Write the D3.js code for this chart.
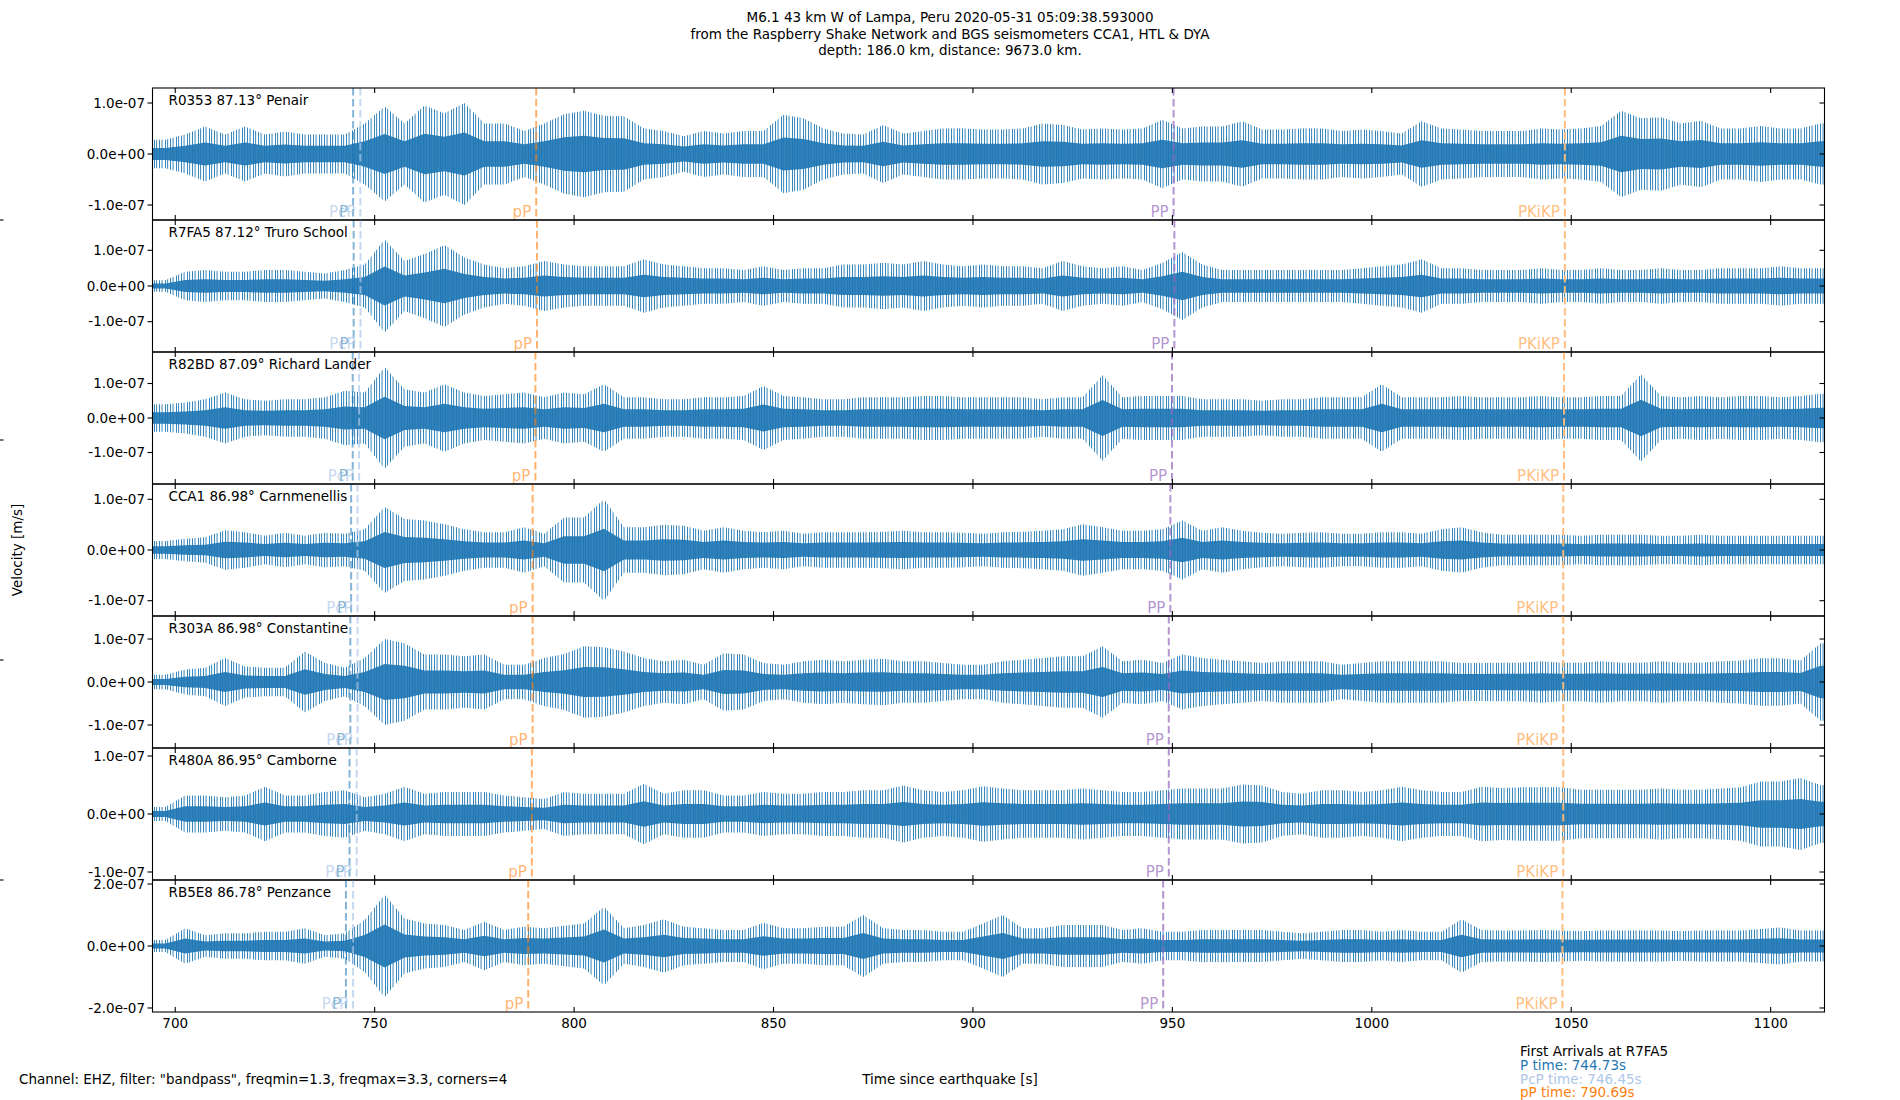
<!DOCTYPE html>
<html>
<head>
<meta charset="utf-8">
<script src="https://cdn.jsdelivr.net/npm/d3@7"></script>
<style>
body{margin:0;background:#fff}
text{font-family:"DejaVu Sans",sans-serif;font-size:13.5px}
</style>
</head>
<body>
<svg id="fig" width="1900" height="1100"></svg>
<script>
'use strict'

// stations, top to bottom
var stations = ["R0353", "R7FA5", "R82BD", "CCA1", "R303A", "R480A", "RB5E8"]
var distances = [87.13, 87.12, 87.09, 86.98, 86.98, 86.95, 86.78]
var places = ["Penair", "Truro School", "Richard Lander", "Carnmenellis", "Constantine", "Camborne", "Penzance"]

// half range of each y axis (m/s) and its ticks
var yLimits = [1.294e-7, 1.849e-7, 1.913e-7, 1.302e-7, 1.535e-7, 1.138e-7, 2.13e-7]
var yTicks = [
	[-1e-7, 0, 1e-7], [-1e-7, 0, 1e-7], [-1e-7, 0, 1e-7], [-1e-7, 0, 1e-7],
	[-1e-7, 0, 1e-7], [-1e-7, 0, 1e-7], [-2e-7, 0, 2e-7]
]
var xTicks = [700, 750, 800, 850, 900, 950, 1000, 1050, 1100]
var xLimits = [694.3, 1113.5]

// arrival times (s) per station
var pcpTimes = [746.4, 746.45, 746.1, 745.7, 745.7, 745.5, 744.6]
var pTimes = [744.6, 744.73, 744.5, 744.1, 743.9, 743.7, 742.8]
var pPTimes = [790.5, 790.69, 790.3, 789.6, 789.6, 789.4, 788.5]
var ppTimes = [950.3, 950.5, 949.9, 949.5, 949.1, 949.1, 947.7]
var pkikpTimes = [1048.4, 1048.4, 1048.2, 1048.0, 1048.0, 1048.0, 1047.8]

// 5 s windows (start time) and peak velocity in each window, units of 1e-8 m/s
var binStarts = [695, 700, 705, 710, 715, 720, 725, 730, 735, 740,
	745, 750, 755, 760, 765, 770, 775, 780, 785, 790,
	795, 800, 805, 810, 815, 820, 825, 830, 835, 840,
	845, 850, 855, 860, 865, 870, 875, 880, 885, 890,
	895, 900, 905, 910, 915, 920, 925, 930, 935, 940,
	945, 950, 955, 960, 965, 970, 975, 980, 985, 990,
	995, 1000, 1005, 1010, 1015, 1020, 1025, 1030, 1035, 1040,
	1045, 1050, 1055, 1060, 1065, 1070, 1075, 1080, 1085, 1090,
	1095, 1100, 1105, 1110]

var envR0353 = [2.8, 3.8, 5.4, 3.8, 5.4, 3.8, 4.4, 3.8, 3.8, 3.8,
	6, 9.3, 6, 9.5, 8, 10, 6, 6, 4.5, 6,
	7.8, 8.5, 7.5, 7.4, 5, 4.5, 3.5, 4.5, 4, 4.5,
	4.5, 7.7, 7, 5, 4, 3.8, 5.7, 4, 4.5, 5,
	5, 4.8, 4.8, 5, 6, 5.7, 4.8, 5, 4.8, 5,
	6.7, 5, 5.4, 5.4, 6.4, 4.8, 4.8, 5, 5, 4.5,
	4.8, 4.5, 4, 6.4, 5, 4.8, 4.5, 4.5, 4.5, 5,
	4.8, 5, 5.5, 8.5, 7, 7.2, 6, 6.5, 5, 5,
	5.5, 5, 5, 6]
var envR7FA5 = [1.6, 4, 4.5, 4, 4, 4.5, 4.5, 4, 3.5, 4.5,
	6, 13, 7, 9, 11.5, 8, 6, 5, 5.5, 7,
	6, 5.5, 5.5, 5.5, 7.5, 6, 5.5, 5, 5, 4.5,
	5.5, 4.5, 5, 5, 6, 6, 6.5, 6, 7, 6,
	5.5, 6, 5.5, 5.5, 5, 7, 5.5, 5, 5.5, 4.5,
	6.5, 9.5, 6, 4.5, 4.5, 4.5, 4.5, 4.5, 4.5, 4.5,
	5, 5.5, 6, 7.5, 5, 5, 4.5, 4.5, 4.5, 5,
	4.5, 4.5, 5, 4.5, 4.5, 5, 4.5, 4.5, 5, 5,
	5, 5.5, 5, 5]
var envR82BD = [4, 4.5, 5.4, 7.4, 5.4, 5, 5.4, 5.4, 6, 7.9,
	7.4, 14.7, 8.3, 7.4, 9.8, 7.4, 6.4, 6.9, 7.4, 6,
	7.4, 6.9, 9.8, 6, 6, 5.4, 5.4, 6, 6, 6.4,
	9.3, 6.4, 6, 5.4, 5.4, 6, 6, 6, 6.4, 6.4,
	6, 6, 6, 6, 5.4, 6, 6, 12.4, 6, 6.4,
	6.4, 6.4, 5.4, 5.4, 5.4, 5, 5.4, 5.4, 6, 6,
	6, 9.8, 6, 6, 6, 6.4, 6, 6, 6, 6.4,
	6, 6, 6.4, 6.4, 12.6, 6.4, 6, 6.4, 6, 6.4,
	6.4, 6, 6.4, 7]
var envCCA1 = [1.8, 2.2, 2.5, 3.9, 3.5, 2.8, 3.4, 2.8, 3.4, 3.2,
	4.1, 8.5, 6.1, 5.8, 5.1, 4.1, 3.5, 3.5, 4.5, 3.2,
	6.4, 6.4, 10, 4.5, 4.5, 5, 4.8, 3.8, 4.5, 3.8,
	3.5, 3.8, 3.2, 3.5, 3.5, 3.5, 3.6, 3.8, 3.5, 3.5,
	3.4, 3.2, 3.5, 3.6, 3.8, 4.1, 5.1, 4.5, 3.8, 3.8,
	4.1, 5.8, 3.8, 4.5, 3.8, 3.4, 3.2, 3.4, 3.5, 3.2,
	3.2, 3.5, 3.5, 3.2, 4.1, 4.5, 3.5, 3, 3, 3,
	3, 2.8, 3, 3, 3, 2.8, 2.8, 3, 2.8, 2.8,
	2.8, 2.8, 2.8, 2.8]
var envR303A = [1.7, 2.9, 3.3, 5.6, 3.6, 3.3, 3.3, 7.1, 4.4, 3.3,
	5.6, 10, 9, 6.4, 6.4, 6, 6.4, 4, 4, 5.6,
	6.5, 8.3, 8.1, 7.1, 5.6, 4.8, 5.2, 4, 6.7, 6.4,
	4.4, 4, 4.8, 5.2, 4.8, 5.2, 5.4, 4.8, 4.8, 4.4,
	4, 4, 4.8, 5.2, 5.6, 6, 6, 8.3, 4.8, 5.2,
	4.4, 6.4, 5.6, 5.2, 4.8, 4.4, 4.8, 4.8, 4.8, 4,
	4.4, 4.8, 4.8, 4.8, 4.8, 4.4, 4.4, 4.5, 4.5, 4.8,
	4.5, 4.5, 4.8, 4.5, 4.5, 4.8, 4.5, 4.5, 4.8, 5,
	5.5, 5.5, 5, 9]
var envR480A = [1.2, 3.2, 3.2, 2.9, 3.2, 4.7, 3.2, 3.2, 3.8, 4.1,
	2.9, 3.5, 4.7, 3.5, 3.8, 3.8, 3.8, 3.2, 2.9, 2.6,
	3.8, 3.5, 3.5, 3.5, 5.2, 3.5, 4.1, 4.1, 3.2, 3.2,
	3.8, 3.5, 3.5, 3.8, 3.8, 4.1, 4.1, 4.9, 4.1, 3.8,
	4.1, 4.8, 4.4, 4.1, 4.1, 4.1, 4.4, 4.1, 3.8, 3.8,
	4.1, 4.4, 4.4, 4.4, 5.1, 4.9, 3.8, 3.5, 4.1, 4.1,
	3.8, 4.1, 4.7, 4.1, 3.8, 3.8, 4.7, 4.5, 4.6, 4.6,
	4.6, 4.2, 4.2, 4.2, 4.2, 4.4, 4.2, 4.2, 4.4, 4.6,
	5.6, 5.6, 6.2, 5]
var envRB5E8 = [1.9, 5.7, 3.5, 4.1, 4.1, 4.6, 4.6, 5.7, 3.5, 4.1,
	8.4, 16.5, 8.9, 7.3, 6.8, 5.2, 7.8, 5.2, 6.2, 5.7,
	6.5, 7.3, 12.7, 5.7, 6.8, 8.6, 6.2, 5.7, 5.2, 5.2,
	7.5, 5.7, 5.7, 6.2, 6.2, 10, 5.7, 5.2, 5.2, 4.6,
	4.6, 7.3, 10, 5.7, 5.7, 6.8, 6.8, 6.8, 5.2, 5.7,
	4.6, 4.6, 5.2, 5.2, 5.2, 5.2, 4.6, 4.1, 4.6, 5.2,
	5.2, 4.6, 5.2, 4.6, 4.6, 8.6, 5.2, 5, 5, 5.2,
	5, 4.8, 5, 5, 5, 5, 4.8, 5, 5, 5,
	5.5, 6, 5, 5]
var envelopes = [envR0353, envR7FA5, envR82BD, envCCA1, envR303A, envR480A, envRB5E8]

var svg = d3.select("#fig")
let margins = {top : 88, left : 152.5, right : 75.5}
let panelH = 132
let width = 1900 - margins.left - margins.right

var x = d3.scaleLinear().domain(xLimits).range([margins.left, margins.left + width])

// thin, unevenly spaced vertical strokes for the sparse outer part of each trace
var defs = svg.append("defs")
var pat = defs.append("pattern")
	.attr("id", "strokes")
	.attr("patternUnits", "userSpaceOnUse")
	.attr("width", 11).attr("height", 40)
;[0, 2.2, 5.1, 7.6].forEach(function(o){
	pat.append("rect")
		.attr("x", o)
		.attr("width", 0.9).attr("height", 40)
		.attr("fill", "#1f77b4")
})

function sciFmt(v){
	let s = v.toExponential(1)
	return s.replace(/e([+-])(\d)$/, "e$10$2")
}

function phaseColor(name){
	return {"P" : "#1f77b4", "PcP" : "#aec7e8", "pP" : "#ff7f0e", "PP" : "#9467bd", "PKiKP" : "#ffbb78"}[name]
}
function phaseOpacity(name){
	return {"P" : 0.55, "PcP" : 0.7, "pP" : 0.6, "PP" : 0.7, "PKiKP" : 0.95}[name]
}

stations.forEach(function(st, i){
	let top = margins.top + i * panelH
	let y = d3.scaleLinear().domain([-yLimits[i], yLimits[i]]).range([top + panelH, top])
	let g = svg.append("g").attr("class", "panel")

	defs.append("clipPath").attr("id", "clip" + i)
		.append("rect")
		.attr("x", margins.left).attr("y", top)
		.attr("width", width).attr("height", panelH)

	let env = envelopes[i]
	let pts = binStarts.map(function(t, k){
		return {t : t + 2.5, a : env[k] * 1e-8}
	})
	// hold the first / last window out to the axis edges
	pts.unshift({t : xLimits[0], a : env[0] * 1e-8})
	pts.push({t : xLimits[1], a : env[env.length - 1] * 1e-8})

	let outer = d3.area()
		.x(function(d){ return x(d.t) })
		.y0(function(d){ return y(-d.a) })
		.y1(function(d){ return y(d.a) })
	let inner = d3.area()
		.x(function(d){ return x(d.t) })
		.y0(function(d){ return y(-d.a * 0.42) })
		.y1(function(d){ return y(d.a * 0.42) })

	let tr = g.append("g").attr("clip-path", "url(#clip" + i + ")")
	tr.append("path").datum(pts).attr("d", outer).attr("fill", "url(#strokes)")
	tr.append("path").datum(pts).attr("d", inner).attr("fill", "#1f77b4").attr("fill-opacity", 0.92)

	// arrival lines and labels
	let phases = [
		["PcP", pcpTimes[i]], ["P", pTimes[i]], ["pP", pPTimes[i]],
		["PP", ppTimes[i]], ["PKiKP", pkikpTimes[i]]
	]
	phases.forEach(function(p){
		g.append("line")
			.attr("x1", x(p[1])).attr("x2", x(p[1]))
			.attr("y1", top).attr("y2", top + panelH)
			.attr("stroke", phaseColor(p[0]))
			.attr("stroke-opacity", phaseOpacity(p[0]))
			.attr("stroke-width", 2)
			.attr("stroke-dasharray", "7.5,3.5")
	})
	phases.forEach(function(p){
		g.append("text")
			.attr("x", x(p[1]) - 5)
			.attr("y", top + panelH - 3.5)
			.attr("text-anchor", "end")
			.attr("fill", phaseColor(p[0]))
			.attr("fill-opacity", phaseOpacity(p[0]))
			.style("font-size", "15px")
			.text(p[0])
	})

	// frame
	g.append("rect")
		.attr("x", margins.left).attr("y", top)
		.attr("width", width).attr("height", panelH)
		.attr("fill", "none").attr("stroke", "#000").attr("stroke-width", 1.1)

	// x ticks inward on top and bottom
	xTicks.forEach(function(t){
		g.append("line").attr("x1", x(t)).attr("x2", x(t))
			.attr("y1", top).attr("y2", top + 5).attr("stroke", "#000").attr("stroke-width", 1.1)
		g.append("line").attr("x1", x(t)).attr("x2", x(t))
			.attr("y1", top + panelH - 5).attr("y2", top + panelH).attr("stroke", "#000").attr("stroke-width", 1.1)
	})

	// y ticks: out on the left, in on the right
	yTicks[i].forEach(function(v){
		g.append("line").attr("x1", margins.left - 5).attr("x2", margins.left)
			.attr("y1", y(v)).attr("y2", y(v)).attr("stroke", "#000").attr("stroke-width", 1.1)
		g.append("line").attr("x1", margins.left + width - 5).attr("x2", margins.left + width)
			.attr("y1", y(v)).attr("y2", y(v)).attr("stroke", "#000").attr("stroke-width", 1.1)
		g.append("text")
			.attr("x", margins.left - 7.5)
			.attr("y", y(v))
			.attr("dy", "0.35em")
			.attr("text-anchor", "end")
			.attr("fill", "#000")
			.text(sciFmt(v))
	})

	g.append("text")
		.attr("x", margins.left + 16)
		.attr("y", top + 16.5)
		.attr("fill", "#000")
		.text(st + " " + distances[i].toFixed(2) + "\u00b0 " + places[i])

	if(i == stations.length - 1){
		xTicks.forEach(function(t){
			g.append("text")
				.attr("x", x(t))
				.attr("y", top + panelH + 16)
				.attr("text-anchor", "middle")
				.attr("fill", "#000")
				.text(t)
		})
	}
})

// small ticks of the full-figure frame on the left edge
var figTicks = [0.2, 0.4, 0.6, 0.8]
figTicks.forEach(function(f){
	svg.append("line").attr("x1", 0).attr("x2", 3.5)
		.attr("y1", 1100 * f).attr("y2", 1100 * f)
		.attr("stroke", "#000").attr("stroke-width", 1.1)
})

var titleLines = [
	"M6.1 43 km W of Lampa, Peru 2020-05-31 05:09:38.593000",
	"from the Raspberry Shake Network and BGS seismometers CCA1, HTL & DYA",
	"depth: 186.0 km, distance: 9673.0 km."
]
titleLines.forEach(function(l, k){
	svg.append("text")
		.attr("x", 950).attr("y", 22 + k * 16.5)
		.attr("text-anchor", "middle").attr("fill", "#000")
		.text(l)
})

svg.append("text")
	.attr("transform", "translate(22,550) rotate(-90)")
	.attr("text-anchor", "middle").attr("fill", "#000")
	.text("Velocity [m/s]")

svg.append("text")
	.attr("x", 950).attr("y", 1084)
	.attr("text-anchor", "middle").attr("fill", "#000")
	.text("Time since earthquake [s]")

svg.append("text")
	.attr("x", 19).attr("y", 1084)
	.attr("fill", "#000")
	.text("Channel: EHZ, filter: \"bandpass\", freqmin=1.3, freqmax=3.3, corners=4")

var legendLines = [
	["First Arrivals at R7FA5", "#000"],
	["P time: " + pTimes[1].toFixed(2) + "s", "#1f77b4"],
	["PcP time: " + pcpTimes[1].toFixed(2) + "s", "#aec7e8"],
	["pP time: " + pPTimes[1].toFixed(2) + "s", "#ff7f0e"]
]
legendLines.forEach(function(l, k){
	svg.append("text")
		.attr("x", 1520).attr("y", 1056 + k * 13.8)
		.attr("fill", l[1])
		.text(l[0])
})
</script>
</body>
</html>
